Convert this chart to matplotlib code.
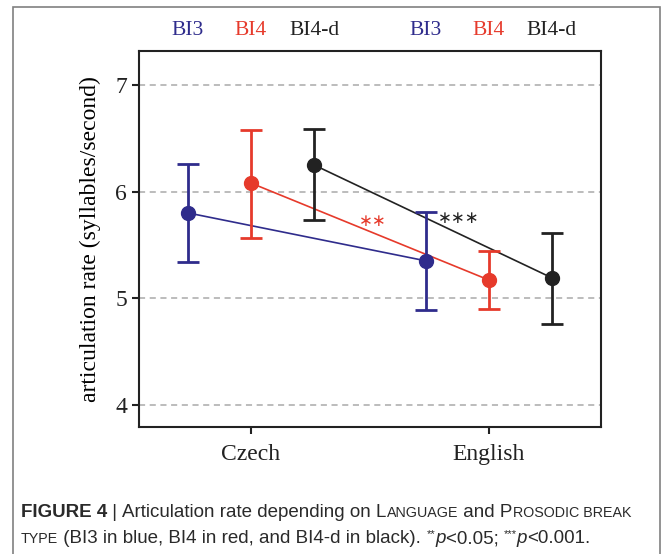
#!/usr/bin/env python
# coding: utf-8

import matplotlib
matplotlib.use("Agg")
import matplotlib.pyplot as plt
from matplotlib.patches import Rectangle
import numpy as np

# data
languages = ["Czech", "English"]
break_types = ["BI3", "BI4", "BI4-d"]
colors = ["#2f2c8c", "#e63a2b", "#222222"]
means = {
    "BI3": [5.80, 5.35],
    "BI4": [6.08, 5.17],
    "BI4-d": [6.25, 5.19],
}
upper = {
    "BI3": [6.26, 5.81],
    "BI4": [6.58, 5.44],
    "BI4-d": [6.59, 5.61],
}
lower = {
    "BI3": [5.34, 4.89],
    "BI4": [5.56, 4.90],
    "BI4-d": [5.73, 4.76],
}
offsets = [-0.265, 0.0, 0.265]
significance = {"BI4": "\u2217\u2217", "BI4-d": "\u2217\u2217\u2217"}
y_ticks = [4, 5, 6, 7]

serif = ["Liberation Serif", "DejaVu Serif"]
star_font = ["DejaVu Sans"]
sans = ["Liberation Sans Narrow", "Liberation Sans", "DejaVu Sans"]

fig = plt.figure(figsize=(6.68, 5.54), dpi=100)

# outer frame around figure + caption
fig.patches.append(
    Rectangle((13 / 668, -0.05), (660 - 13) / 668, 1 - 7 / 554 + 0.05,
              transform=fig.transFigure, fill=False, edgecolor="#808080",
              linewidth=1.2)
)

ax = fig.add_axes([0.2081, 0.2292, 0.6916, 0.6787])
x_base = np.arange(1, len(languages) + 1)

for bt, col, off in zip(break_types, colors, offsets):
    x = x_base + off
    m = np.array(means[bt])
    err = np.vstack([m - np.array(lower[bt]), np.array(upper[bt]) - m])
    ax.plot(x, m, color=col, linewidth=1.2, zorder=3)
    ax.errorbar(x, m, yerr=err, fmt="o", color=col, markersize=10,
                elinewidth=2, capsize=8, capthick=2, zorder=4)

# significance marks
ax.text(1.51, 5.725, significance["BI4"], color=colors[1], fontsize=12,
        family=star_font, ha="center", va="center")
ax.text(1.872, 5.755, significance["BI4-d"], color=colors[2], fontsize=12,
        family=star_font, ha="center", va="center")

# break type labels above the plot
for i in range(len(languages)):
    for bt, col, off in zip(break_types, colors, offsets):
        ax.text(x_base[i] + off, 1.055, bt, color=col, fontsize=15.5,
                family=serif, ha="center", va="center",
                transform=ax.get_xaxis_transform())

ax.set_xlim(0.529, 2.471)
ax.set_ylim(3.79, 7.32)
ax.set_yticks(y_ticks)
ax.set_xticks(x_base)
ax.set_xticklabels(languages, family=serif, fontsize=17)
ax.set_yticklabels([str(v) for v in y_ticks], family=serif, fontsize=17)
ax.set_ylabel("articulation rate (syllables/second)", family=serif,
              fontsize=17, labelpad=10)
ax.grid(axis="y", linestyle=(0, (4, 3)), color="#aaaaaa", linewidth=1.1)
ax.set_axisbelow(True)
for sp in ax.spines.values():
    sp.set_linewidth(1.5)
    sp.set_color("#222222")
ax.tick_params(axis="both", length=5, width=1.5, color="#222222",
               labelcolor="#222222")
ax.tick_params(axis="x", pad=7)


def draw_segments(fig, x, y, segments, color="#2a2a2a"):
    """Draw text pieces one after another on a line (dy lifts superscripts)."""
    renderer = fig.canvas.get_renderer()
    for s, size, dy, kw in segments:
        t = fig.text(x / 668, 1 - (y - dy) / 554, s, fontsize=size,
                     color=color, va="baseline", ha="left", **kw)
        bb = t.get_window_extent(renderer=renderer)
        x += bb.width


big = 13.5
small = 10.3
line1 = [
    ("FIGURE 4", big, 0, dict(family=sans, weight="bold")),
    (" | ", big, 0, dict(family=sans)),
    ("Articulation rate depending on L", big, 0, dict(family=sans)),
    ("ANGUAGE", small, 0, dict(family=sans)),
    (" and P", big, 0, dict(family=sans)),
    ("ROSODIC BREAK", small, 0, dict(family=sans)),
]
line2 = [
    ("TYPE", small, 0, dict(family=sans)),
    (" (BI3 in blue, BI4 in red, and BI4-d in black). ", big, 0,
     dict(family=sans)),
    ("**", 8, 6, dict(family=sans)),
    ("p", big, 0, dict(family=sans, style="italic")),
    ("<0.05; ", big, 0, dict(family=sans)),
    ("***", 8, 6, dict(family=sans)),
    ("p", big, 0, dict(family=sans, style="italic")),
    ("<0.001.", big, 0, dict(family=sans)),
]
draw_segments(fig, 21, 517, line1)
draw_segments(fig, 21, 543, line2)

fig.savefig("out.png", dpi=100)
